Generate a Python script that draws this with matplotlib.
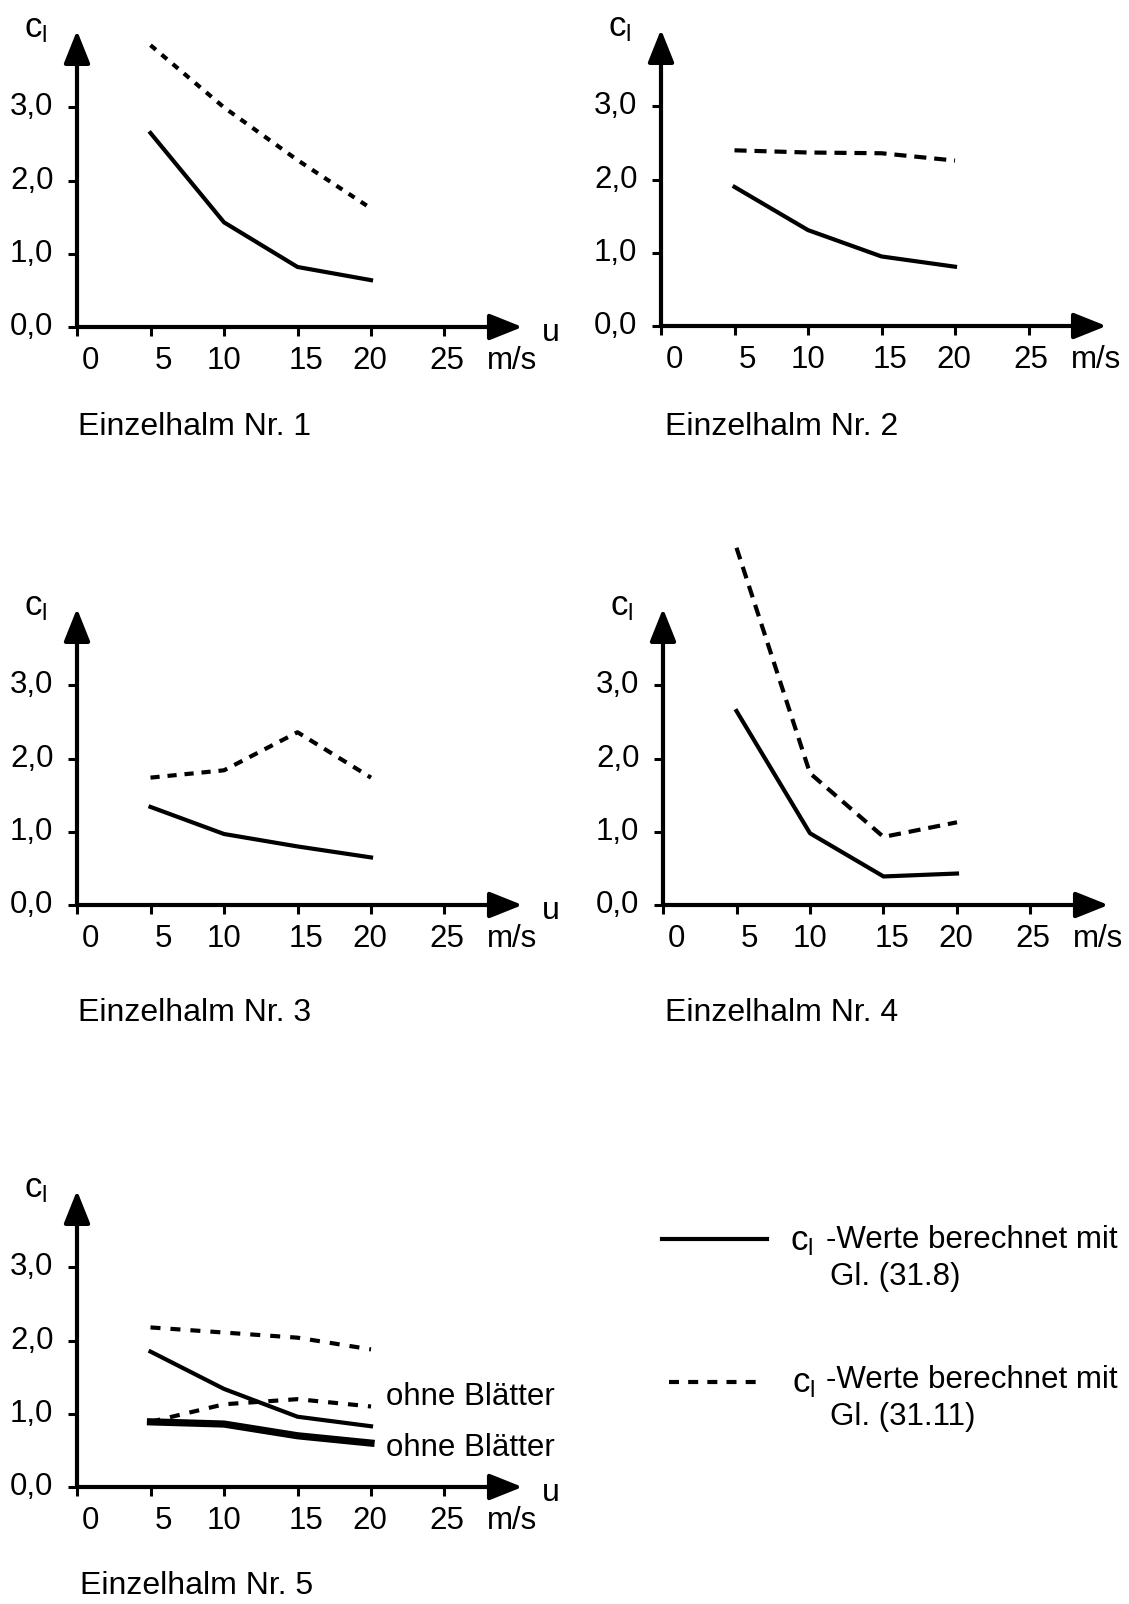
import matplotlib
matplotlib.use('Agg')
import matplotlib.pyplot as plt

plt.rcParams['font.family'] = ['Liberation Sans', 'DejaVu Sans']
plt.rcParams['mathtext.fontset'] = 'custom'
plt.rcParams['mathtext.rm'] = 'Liberation Sans'
plt.rcParams['mathtext.it'] = 'Liberation Sans'

W, H = 1129, 1604

# wind speed u (m/s)
u = [5, 10, 15, 20]
xticks = [0, 5, 10, 15, 20, 25]
xticklabels = ['0', '5', '10', '15', '20', '25']
xlabel_x = [0.9, 5.9, 10.0, 15.55, 19.9, 25.15]
yticks = [0, 1, 2, 3]
yticklabels = ['0,0', '1,0', '2,0', '3,0']

# c_l values, Gl. (31.8) solid / Gl. (31.11) dashed
nr1_gl318 = [2.65, 1.43, 0.82, 0.64]
nr1_gl3111 = [3.85, 3.00, 2.28, 1.62]
nr2_gl318 = [1.90, 1.31, 0.95, 0.81]
nr2_gl3111 = [2.40, 2.37, 2.36, 2.26]
nr3_gl318 = [1.34, 0.97, 0.80, 0.65]
nr3_gl3111 = [1.74, 1.84, 2.36, 1.74]
nr4_gl318 = [2.65, 0.98, 0.39, 0.43]
nr4_gl3111 = [4.88, 1.80, 0.93, 1.13]
nr5_gl318 = [1.85, 1.34, 0.96, 0.83]
nr5_gl3111 = [2.18, 2.11, 2.04, 1.88]
nr5_gl318_ohne = [0.89, 0.86, 0.70, 0.60]
nr5_gl3111_ohne = [0.89, 1.13, 1.20, 1.10]

titles = ['Einzelhalm Nr. 1', 'Einzelhalm Nr. 2', 'Einzelhalm Nr. 3',
          'Einzelhalm Nr. 4', 'Einzelhalm Nr. 5']

# layout (pixels): axis origin of each panel and title position
origins = [(77, 327), (661, 326), (77, 905), (663, 905), (77, 1487)]
title_pos = [(78, 427), (665, 427), (78, 1013), (665, 1013), (80, 1586)]
show_u = [True, False, True, False, True]
dash_styles = [(1.7, 1.8), (2.9, 1.9), (2.2, 1.9), (2.9, 1.9), (2.4, 2.4)]
XMAX, YMAX = 30.3, 4.05
PX_X, PX_Y = 14.7, 73.2

LW = 3.0
FS = 22.5

fig = plt.figure(figsize=(W / 100, H / 100), dpi=100)

# overlay in pixel coordinates for titles and legend
over = fig.add_axes([0, 0, 1, 1])
over.set_xlim(0, W)
over.set_ylim(H, 0)
over.axis('off')

axes = []
for (ox, oy) in origins:
    ax = fig.add_axes([ox / W, 1 - oy / H, XMAX * PX_X / W, YMAX * PX_Y / H])
    ax.set_xlim(0, XMAX)
    ax.set_ylim(0, YMAX)
    ax.patch.set_visible(False)
    for s in ax.spines.values():
        s.set_visible(False)
    ax.set_xticks(xticks)
    ax.set_xticklabels([])
    ax.set_yticks(yticks)
    ax.set_yticklabels([])
    ax.tick_params(direction='out', length=6.5, width=2.2, color='black')
    for end in [(XMAX, 0), (0, YMAX)]:
        ax.annotate('', xy=end, xytext=(0, 0), annotation_clip=False,
                    arrowprops=dict(arrowstyle='-|>,head_length=1.0,head_width=0.4',
                                    mutation_scale=20, lw=LW, color='black',
                                    shrinkA=0, shrinkB=0))
    for xv, lab in zip(xlabel_x, xticklabels):
        ax.text(xv, -0.47, lab, ha='center', va='center', fontsize=FS)
    ax.text(29.6, -0.47, 'm/s', ha='center', va='center', fontsize=FS)
    for yv, lab in zip(yticks, yticklabels):
        ax.text(-1.6, yv, lab, ha='right', va='center', fontsize=FS)
    ax.text(-2.0, YMAX + 0.03, r'$\mathrm{c_l}$', ha='right', va='center', fontsize=25)
    axes.append(ax)

for ax, su in zip(axes, show_u):
    if su:
        ax.text(32.2, -0.08, 'u', ha='center', va='center', fontsize=23, clip_on=False)

pairs = [(nr1_gl318, nr1_gl3111), (nr2_gl318, nr2_gl3111), (nr3_gl318, nr3_gl3111),
         (nr4_gl318, nr4_gl3111), (nr5_gl318, nr5_gl3111)]
for ax, (sol, das), ds in zip(axes, pairs, dash_styles):
    ax.plot(u, sol, color='black', lw=LW, clip_on=False)
    ax.plot(u, das, color='black', lw=LW, dashes=ds, clip_on=False)

ax5 = axes[4]
ax5.plot(u, nr5_gl318_ohne, color='black', lw=5.2, clip_on=False)
ax5.plot(u, nr5_gl3111_ohne, color='black', lw=LW, dashes=dash_styles[4], clip_on=False)
ax5.text(21.0, 1.23, 'ohne Blätter', ha='left', va='center', fontsize=FS)
ax5.text(21.0, 0.53, 'ohne Blätter', ha='left', va='center', fontsize=FS)

for (tx, ty), t in zip(title_pos, titles):
    over.text(tx, ty, t, ha='left', va='center', fontsize=23)

# legend
over.plot([662, 767], [1239, 1239], color='black', lw=LW)
over.plot([669, 759], [1382, 1382], color='black', lw=LW, dashes=(2.4, 2.2))
over.text(790, 1242, r'$\mathrm{c_l}$', ha='left', va='center', fontsize=25)
over.text(826, 1240, '-Werte berechnet mit', ha='left', va='center', fontsize=FS)
over.text(830, 1277, 'Gl. (31.8)', ha='left', va='center', fontsize=FS)
over.text(792, 1384, r'$\mathrm{c_l}$', ha='left', va='center', fontsize=25)
over.text(826, 1380, '-Werte berechnet mit', ha='left', va='center', fontsize=FS)
over.text(830, 1417, 'Gl. (31.11)', ha='left', va='center', fontsize=FS)

fig.savefig('out.png', dpi=100)
